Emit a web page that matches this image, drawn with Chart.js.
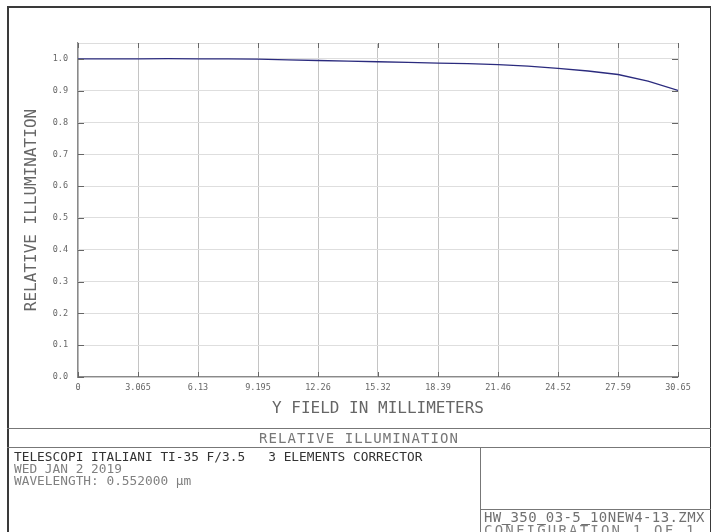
<!DOCTYPE html>
<html>
<head>
<meta charset="utf-8">
<script src="https://cdn.jsdelivr.net/npm/chart.js@4/dist/chart.umd.min.js"></script>
<style>
  html, body { margin: 0; padding: 0; background: #fff; }
  #wrap { position: relative; width: 717px; height: 532px; overflow: hidden; background: #fff; }
  #plot { position: absolute; left: 0; top: 0; }
  .ln { position: absolute; background: #3a3a3a; }
  .txt { position: absolute; font-family: "DejaVu Sans Mono", monospace; white-space: pre; line-height: 1; }
</style>
</head>
<body>
<div id="wrap">
  <canvas id="plot" width="717" height="532"></canvas>

  <!-- drawing frame and title block -->
  <div class="ln" style="left:7px; top:6px; width:704px; height:1.5px;"></div>
  <div class="ln" style="left:7px; top:6px; width:1.5px; height:530px;"></div>
  <div class="ln" style="left:709.5px; top:6px; width:1.5px; height:530px;"></div>
  <div class="ln" style="left:7px; top:428px; width:704px; height:1px; background:#777;"></div>
  <div class="ln" style="left:7px; top:447px; width:704px; height:1px; background:#777;"></div>
  <div class="ln" style="left:480px; top:447px; width:1px; height:90px; background:#777;"></div>
  <div class="ln" style="left:480px; top:509px; width:231px; height:1px; background:#777;"></div>

  <div class="txt" style="left:7px; width:704px; top:431px; text-align:center; font-size:14px; letter-spacing:1.1px; color:#777;">RELATIVE ILLUMINATION</div>
  <div class="txt" style="left:14px; top:451px; font-size:12.8px; color:#333;">TELESCOPI ITALIANI TI-35 F/3.5   3 ELEMENTS CORRECTOR</div>
  <div class="txt" style="left:14px; top:463px; font-size:12.8px; color:#808080;">WED JAN 2 2019</div>
  <div class="txt" style="left:14px; top:475px; font-size:12.8px; color:#808080;">WAVELENGTH: 0.552000 µm</div>
  <div class="txt" style="left:484px; top:523px; font-size:14px; letter-spacing:2.2px; color:#808080;">CONFIGURATION 1 OF 1</div>
  <div class="txt" style="left:484px; top:510px; font-size:14px; letter-spacing:0.4px; color:#707070;">HW<span style="text-decoration:underline; text-decoration-thickness:1px; text-underline-offset:2px;">&#160;</span>350<span style="text-decoration:underline; text-decoration-thickness:1px; text-underline-offset:2px;">&#160;</span>03-5<span style="text-decoration:underline; text-decoration-thickness:1px; text-underline-offset:2px;">&#160;</span>10NEW4-13.ZMX</div>
</div>

<script>
// Relative illumination across the image field
const fieldMm = [0, 1.5325, 3.065, 4.5975, 6.13, 7.6625, 9.195, 10.7275, 12.26, 13.7925,
                 15.32, 16.8575, 18.39, 19.9225, 21.46, 22.9875, 24.52, 26.0525, 27.59, 29.1175, 30.65];
const illumination = [1.000, 1.000, 1.000, 1.001, 1.000, 1.000, 0.999, 0.997, 0.995, 0.993,
                      0.991, 0.989, 0.987, 0.985, 0.982, 0.977, 0.970, 0.962, 0.951, 0.930, 0.901];

// Axis ticks
const xTickValues = [0, 3.065, 6.13, 9.195, 12.26, 15.32, 18.39, 21.46, 24.52, 27.59, 30.65];
const xTickLabels = ['0', '3.065', '6.13', '9.195', '12.26', '15.32', '18.39', '21.46', '24.52', '27.59', '30.65'];
const yTickValues = [0, 0.1, 0.2, 0.3, 0.4, 0.5, 0.6, 0.7, 0.8, 0.9, 1.0];
const yTickLabels = ['0.0', '0.1', '0.2', '0.3', '0.4', '0.5', '0.6', '0.7', '0.8', '0.9', '1.0'];

const MONO = '"DejaVu Sans Mono", monospace';

// Short inward tick marks on all four sides of the plot box, plus its faint top edge
const frameTicks = {
  id: 'frameTicks',
  afterDatasetsDraw(chart) {
    const { ctx, chartArea: a, scales: { x, y } } = chart;
    ctx.save();
    ctx.strokeStyle = '#dddddd';
    ctx.lineWidth = 1;
    ctx.beginPath();
    ctx.moveTo(a.left, a.top + 0.5);
    ctx.lineTo(a.right, a.top + 0.5);
    ctx.stroke();
    ctx.strokeStyle = '#666';
    ctx.beginPath();
    xTickValues.forEach(v => {
      const px = Math.round(x.getPixelForValue(v)) + 0.5;
      ctx.moveTo(px, a.bottom); ctx.lineTo(px, a.bottom - 5);
      ctx.moveTo(px, a.top); ctx.lineTo(px, a.top + 5);
    });
    yTickValues.forEach(v => {
      const py = Math.round(y.getPixelForValue(v)) + 0.5;
      ctx.moveTo(a.left, py); ctx.lineTo(a.left + 6, py);
      ctx.moveTo(a.right, py); ctx.lineTo(a.right - 6, py);
    });
    ctx.stroke();
    ctx.restore();
  }
};

new Chart(document.getElementById('plot'), {
  type: 'line',
  data: {
    datasets: [{
      data: fieldMm.map((f, i) => ({ x: f, y: illumination[i] })),
      borderColor: '#2b2b7e',
      borderWidth: 1.3,
      pointRadius: 0,
      tension: 0,
      fill: false
    }]
  },
  options: {
    responsive: false,
    devicePixelRatio: 1,
    animation: false,
    layout: { padding: { left: 0, right: 39, top: 43, bottom: 112 } },
    plugins: { legend: { display: false }, tooltip: { enabled: false } },
    scales: {
      x: {
        type: 'linear',
        min: 0,
        max: 30.65,
        afterBuildTicks(s) { s.ticks = xTickValues.map(v => ({ value: v })); },
        afterFit(s) { s.height = 43; },
        ticks: {
          autoSkip: false,
          maxRotation: 0,
          padding: 6,
          color: '#666',
          font: { family: MONO, size: 8.5 },
          callback: (v, i) => xTickLabels[i]
        },
        grid: { color: '#c4c4c4', lineWidth: 1, drawTicks: false },
        border: { color: '#8a8a8a', width: 1.2 },
        title: {
          display: true,
          text: 'Y FIELD IN MILLIMETERS',
          color: '#666',
          font: { family: MONO, size: 16 },
          padding: { top: 0, bottom: 2 }
        }
      },
      y: {
        type: 'linear',
        min: 0,
        max: 1.05,
        afterBuildTicks(s) { s.ticks = yTickValues.map(v => ({ value: v })); },
        afterFit(s) { s.width = 78; },
        ticks: {
          padding: 10,
          color: '#666',
          font: { family: MONO, size: 8.5 },
          callback: (v, i) => yTickLabels[i]
        },
        grid: { color: '#dedede', lineWidth: 1, drawTicks: false },
        border: { color: '#8a8a8a', width: 1.2 },
        title: {
          display: true,
          text: 'RELATIVE ILLUMINATION',
          color: '#666',
          font: { family: MONO, size: 16 },
          padding: { top: 22, bottom: 0 }
        }
      }
    }
  },
  plugins: [frameTicks]
});
</script>
</body>
</html>
